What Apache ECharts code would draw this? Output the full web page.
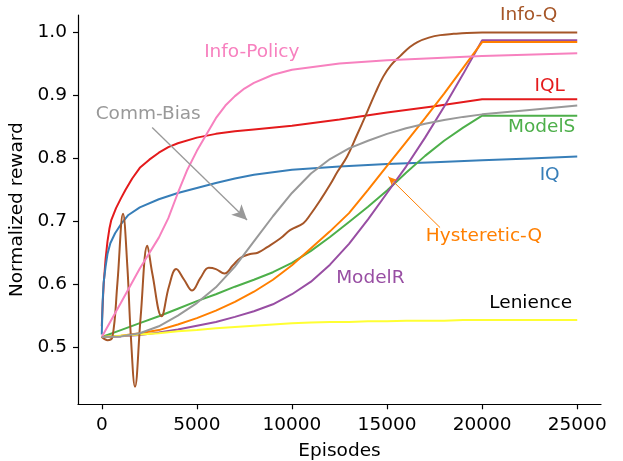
<!DOCTYPE html>
<html>
<head>
<meta charset="utf-8">
<script src="https://cdn.jsdelivr.net/npm/echarts@6.0.0/dist/echarts.min.js"></script>
<style>
  html, body { margin: 0; padding: 0; background: #fff; }
  #chart { width: 623px; height: 461px; }
</style>
</head>
<body>
<div id="chart"></div>
<script>
// shared episode grid for the smooth curves
var episodes = [0, 1000, 2000, 3000, 4000, 5000, 6000, 7000, 8000, 9000, 10000,
  11000, 12000, 13000, 14000, 15000, 16000, 17000, 18000, 19000, 20000, 22500, 25000];

var modelS = [0.516, 0.527, 0.538, 0.549, 0.561, 0.573, 0.584, 0.596, 0.607, 0.619, 0.634,
  0.653, 0.675, 0.699, 0.723, 0.749, 0.777, 0.804, 0.828, 0.849, 0.868, 0.868, 0.868];
var hystereticQ = [0.516, 0.518, 0.522, 0.527, 0.536, 0.546, 0.558, 0.572, 0.588, 0.607, 0.630,
  0.657, 0.684, 0.713, 0.750, 0.788, 0.826, 0.864, 0.903, 0.944, 0.985, 0.985, 0.985];
var modelR = [0.516, 0.517, 0.519, 0.523, 0.528, 0.534, 0.540, 0.548, 0.557, 0.568, 0.584,
  0.604, 0.631, 0.664, 0.703, 0.745, 0.787, 0.833, 0.882, 0.934, 0.988, 0.988, 0.988];
var lenience = [0.516, 0.518, 0.520, 0.522, 0.525, 0.527, 0.530, 0.532, 0.534, 0.536, 0.538,
  0.539, 0.540, 0.540, 0.541, 0.541, 0.542, 0.542, 0.542, 0.543, 0.543, 0.543, 0.543];
var commBias = [0.516, 0.517, 0.522, 0.533, 0.550, 0.570, 0.595, 0.628, 0.668, 0.708, 0.745,
  0.776, 0.799, 0.816, 0.828, 0.839, 0.848, 0.855, 0.861, 0.866, 0.870, 0.877, 0.884];

// curves that need their own sampling
var iqlEp = [0, 50, 100, 200, 300, 400, 500, 750, 1000, 1250, 1600, 2000, 2500, 3000, 3500,
  4000, 5000, 6000, 7000, 8000, 10000, 12500, 15000, 17500, 20000, 25000];
var iql = [0.533, 0.570, 0.600, 0.640, 0.668, 0.688, 0.702, 0.721, 0.736, 0.750, 0.768, 0.785,
  0.798, 0.809, 0.818, 0.824, 0.833, 0.839, 0.843, 0.846, 0.852, 0.862, 0.873, 0.883, 0.894,
  0.894];

var iqEp = [0, 25, 50, 100, 200, 300, 450, 700, 1000, 1400, 2000, 3000, 4000, 5000, 6000,
  7000, 8000, 10000, 12500, 15000, 17500, 20000, 22500, 25000];
var iq = [0.520, 0.550, 0.575, 0.603, 0.628, 0.648, 0.665, 0.681, 0.695, 0.710, 0.722, 0.735,
  0.745, 0.753, 0.761, 0.768, 0.774, 0.782, 0.787, 0.791, 0.794, 0.797, 0.800, 0.803];

var infoPolicyEp = [0, 1000, 2000, 3000, 3500, 4000, 4500, 5000, 5500, 6000, 6500, 7000,
  7500, 8000, 9000, 10000, 12500, 15000, 20000, 25000];
var infoPolicy = [0.516, 0.570, 0.625, 0.674, 0.705, 0.745, 0.782, 0.812, 0.838, 0.864, 0.884,
  0.899, 0.911, 0.920, 0.933, 0.941, 0.951, 0.956, 0.963, 0.967];

var infoQEp = [0, 300, 560, 820, 1118, 1345, 1520, 1747, 2044, 2395, 2657, 3145, 3529, 3914,
  4330, 4752, 5190, 5625, 6000, 6450, 6900, 7300, 7800, 8200, 8700, 9400, 9900, 10600, 11000,
  11500, 12000, 12400, 12900, 13400, 13900, 14400, 14800, 15200, 15700, 16200, 16600, 17200,
  17800, 18500, 19200, 20000, 25000];
var infoQ = [0.516, 0.511, 0.516, 0.601, 0.712, 0.628, 0.522, 0.437, 0.548, 0.661, 0.617, 0.549,
  0.596, 0.624, 0.607, 0.590, 0.610, 0.626, 0.624, 0.617, 0.630, 0.642, 0.648, 0.650, 0.659,
  0.673, 0.686, 0.697, 0.712, 0.734, 0.758, 0.779, 0.803, 0.836, 0.870, 0.905, 0.930, 0.948,
  0.963, 0.977, 0.985, 0.992, 0.996, 0.998, 0.9995, 1.0, 1.0];

var xTicks = [0, 5000, 10000, 15000, 20000, 25000];
var yTicks = [0.5, 0.6, 0.7, 0.8, 0.9, 1.0];

function pairs(xs, ys) {
  return xs.map(function (x, i) { return [x, ys[i]]; });
}

var font = 'DejaVu Sans';
var fs = 18.5;

function textMark(name, x, y, color) {
  return {
    coord: [x, y], symbol: 'circle', symbolSize: 0,
    label: { show: true, position: 'inside', formatter: name, color: color,
      fontFamily: font, fontSize: fs }
  };
}

function line(name, data, color, extra) {
  var s = {
    name: name, type: 'line', data: data, showSymbol: false, smooth: false,
    lineStyle: { color: color, width: 2 }, itemStyle: { color: color }
  };
  for (var k in extra) s[k] = extra[k];
  return s;
}

var chart = echarts.init(document.getElementById('chart'), null, { renderer: 'canvas' });

var option = {
  animation: false,
  backgroundColor: '#fff',
  grid: { left: 78, right: 22, top: 15, bottom: 56.7, outerBoundsMode: 'none' },
  textStyle: { fontFamily: font },
  xAxis: {
    type: 'value', min: -1250, max: 26250,
    name: 'Episodes', nameLocation: 'middle', nameGap: 37,
    nameTextStyle: { color: '#000', fontSize: fs, fontFamily: font },
    axisLine: { onZero: false, lineStyle: { color: '#000', width: 1.2 } },
    axisTick: { show: true, length: 5, customValues: xTicks, lineStyle: { color: '#000', width: 1.2 } },
    axisLabel: { customValues: xTicks, color: '#000', fontSize: fs, fontFamily: font, margin: 11,
      formatter: function (v) { return String(v); } },
    splitLine: { show: false }
  },
  yAxis: {
    type: 'value', min: 0.409, max: 1.028,
    name: 'Normalized reward', nameLocation: 'middle', nameGap: 40, nameRotate: 90,
    nameTextStyle: { color: '#000', fontSize: fs, fontFamily: font },
    axisLine: { show: true, onZero: false, lineStyle: { color: '#000', width: 1.2 } },
    axisTick: { show: true, length: 5, customValues: yTicks, lineStyle: { color: '#000', width: 1.2 } },
    axisLabel: { customValues: yTicks, color: '#000', fontSize: fs, fontFamily: font, margin: 11,
      formatter: function (v) { return v.toFixed(1); } },
    splitLine: { show: false }
  },
  series: [
    line('IQL', pairs(iqlEp, iql), '#e41a1c', {
      markPoint: { data: [textMark('IQL', 23550, 0.9145, '#e41a1c')] }
    }),
    line('IQ', pairs(iqEp, iq), '#377eb8', {
      markPoint: { data: [textMark('IQ', 23550, 0.774, '#377eb8')] }
    }),
    line('ModelS', pairs(episodes, modelS), '#4daf4a', {
      markPoint: { data: [textMark('ModelS', 23130, 0.849, '#4daf4a')] }
    }),
    line('ModelR', pairs(episodes, modelR), '#984ea3', {
      markPoint: { data: [textMark('ModelR', 14122, 0.609, '#984ea3')] }
    }),
    line('Hysteretic-Q', pairs(episodes, hystereticQ), '#ff7f00', {
      markPoint: { data: [textMark('Hysteretic-Q', 20093, 0.6756, '#ff7f00')] },
      markLine: {
        silent: true, symbol: ['none', 'arrow'], symbolSize: [6, 9],
        lineStyle: { color: '#ff7f00', width: 1, type: 'solid' },
        label: { show: false },
        data: [[{ coord: [17789, 0.690] }, { coord: [15067, 0.771] }]]
      }
    }),
    line('Lenience', pairs(episodes, lenience), '#ffff33', {
      markPoint: { data: [textMark('Lenience', 22555, 0.569, '#000')] }
    }),
    line('Info-Q', pairs(infoQEp, infoQ), '#a65628', {
      smooth: 0.4,
      markPoint: { data: [textMark('Info-Q', 22450, 1.0275, '#a65628')] }
    }),
    line('Info-Policy', pairs(infoPolicyEp, infoPolicy), '#f781bf', {
      markPoint: { data: [textMark('Info-Policy', 7888, 0.9686, '#f781bf')] }
    }),
    line('Comm-Bias', pairs(episodes, commBias), '#999999', {
      markPoint: { data: [textMark('Comm-Bias', 2441, 0.870, '#999999')] },
      markLine: {
        silent: true, symbol: ['none', 'arrow'], symbolSize: [11, 15],
        lineStyle: { color: '#999999', width: 1.3, type: 'solid' },
        label: { show: false },
        data: [[{ coord: [2650, 0.849] }, { coord: [7640, 0.702] }]]
      }
    })
  ]
};

chart.setOption(option);
</script>
</body>
</html>
